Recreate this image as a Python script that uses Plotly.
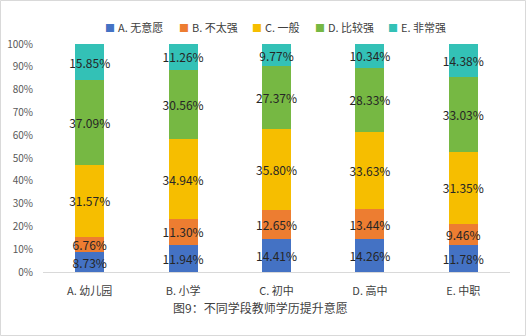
import plotly.graph_objects as go

categories = ["A. 幼儿园", "B. 小学", "C. 初中", "D. 高中", "E. 中职"]
series_names = ["A. 无意愿", "B. 不太强", "C. 一般", "D. 比较强", "E. 非常强"]
s_a = [8.73, 11.94, 14.41, 14.26, 11.78]
s_b = [6.76, 11.30, 12.65, 13.44, 9.46]
s_c = [31.57, 34.94, 35.80, 33.63, 31.35]
s_d = [37.09, 30.56, 27.37, 28.33, 33.03]
s_e = [15.85, 11.26, 9.77, 10.34, 14.38]
colors = ["#4472C4", "#ED7D31", "#F6BE00", "#76B843", "#33C1B6"]
title_text = "图9：不同学段教师学历提升意愿"

W, H = 526, 336
ml, mr, mt, mb = 43, 16, 44, 64
font = "Noto Sans CJK SC, Microsoft YaHei, sans-serif"

fig = go.Figure()
for name, vals, col in zip(series_names, [s_a, s_b, s_c, s_d, s_e], colors):
    fig.add_trace(go.Bar(
        name=name, x=categories, y=[v / 100 for v in vals],
        marker=dict(color=col, line=dict(width=0)),
        text=[f"{v:.2f}%" for v in vals], textposition="inside",
        insidetextanchor="middle", textangle=0,
        textfont=dict(color="#262626", size=12, family=font),
        constraintext="none", cliponaxis=False, showlegend=False,
    ))

pw = W - ml - mr
ph = H - mt - mb
def px_x(p):
    return (p - ml) / pw
def px_y(p):
    return (H - mb - p) / ph

# legend (custom, to match compact spacing)
legend_sq_x = [110, 184, 257, 320, 393]
legend_y = 27
annotations = []
for name, col, sx in zip(series_names, colors, legend_sq_x):
    annotations.append(dict(text="■", xref="paper", yref="paper", x=px_x(sx), y=px_y(legend_y),
                            xanchor="center", yanchor="middle", showarrow=False,
                            font=dict(size=10, color=col)))
    annotations.append(dict(text=name, xref="paper", yref="paper", x=px_x(sx + 6), y=px_y(legend_y),
                            xanchor="left", yanchor="middle", showarrow=False,
                            font=dict(size=11, color="#404040")))
annotations.append(dict(text=title_text, xref="paper", yref="paper",
                        x=px_x(260), y=px_y(307), xanchor="center", yanchor="middle",
                        showarrow=False, font=dict(size=12, color="#404040")))

fig.update_layout(
    barmode="stack", bargap=0.69,
    width=W, height=H,
    margin=dict(l=ml, r=mr, t=mt, b=mb, autoexpand=False),
    paper_bgcolor="white", plot_bgcolor="white",
    font=dict(family=font, size=11, color="#404040"),
    uniformtext=dict(minsize=8, mode="show"),
    showlegend=False,
    xaxis=dict(showline=True, linecolor="#D9D9D9", linewidth=1, ticks="outside",
               ticklen=9, tickcolor="rgba(0,0,0,0)",
               tickfont=dict(size=11, color="#404040"), showgrid=False),
    yaxis=dict(range=[0, 1], tickformat=".0%", dtick=0.1, showgrid=False,
               showline=False, ticks="outside", ticklen=7, tickcolor="rgba(0,0,0,0)",
               zeroline=False,
               tickfont=dict(size=10, color="#595959")),
    annotations=annotations,
    shapes=[dict(type="rect", xref="paper", yref="paper",
                 x0=px_x(0.5), x1=px_x(W - 0.5), y0=px_y(0.5), y1=px_y(H - 0.5),
                 line=dict(color="#D9D9D9", width=1), layer="below")],
)

fig.write_html("out.html")
